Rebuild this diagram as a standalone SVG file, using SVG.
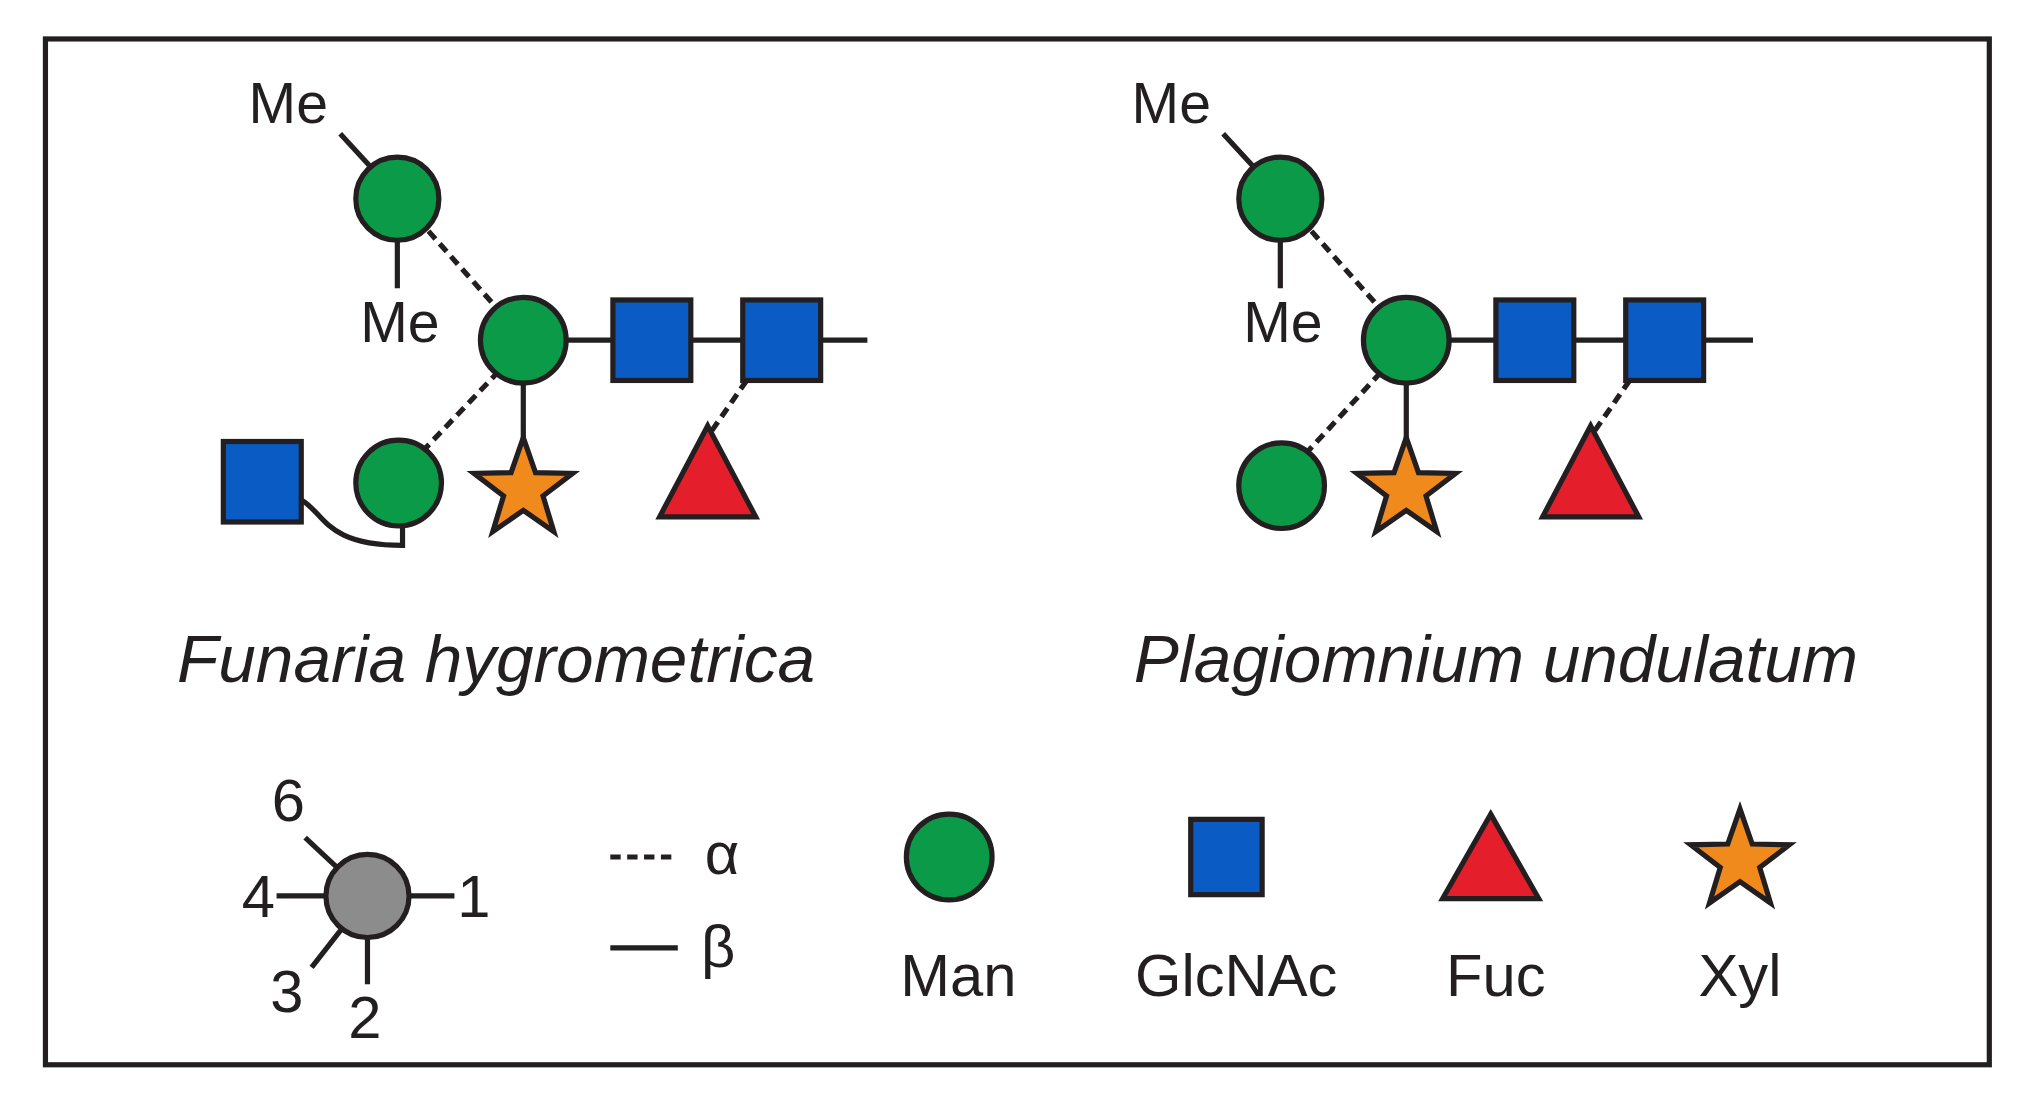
<svg xmlns="http://www.w3.org/2000/svg" width="2036" height="1104" viewBox="0 0 2036 1104">
<defs>
<style>
.man{fill:#0b9a48;stroke:#231f20;stroke-width:4}
.gn{fill:#0a5cc4;stroke:#231f20;stroke-width:4}
.fuc{fill:#e41e2b;stroke:#231f20;stroke-width:4;stroke-linejoin:miter}
.xyl{fill:#f08a1d;stroke:#231f20;stroke-width:4}
.b{stroke:#231f20;stroke-width:4;fill:none}
.a{stroke:#231f20;stroke-width:4;fill:none;stroke-dasharray:8 5}
text{font-family:"Liberation Sans",Arial,sans-serif;fill:#231f20}
.lab{font-size:44px;text-anchor:middle}
.sp{font-size:52px;font-style:italic;text-anchor:middle}
.leg{font-size:46px;text-anchor:middle}
</style>
<polygon id="star" points="0,-40 9.4,-13 38,-12.4 15.2,5 23.5,32.4 0,16 -23.5,32.4 -15.2,5 -38,-12.4 -9.4,-13"/>
</defs>
<rect width="2036" height="1104" fill="#fff"/>
<g transform="scale(1.2985)">
<rect x="35" y="30" width="1497" height="790" fill="none" stroke="#231f20" stroke-width="4"/>
<g id="connectors">
<line class="b" x1="262" y1="103" x2="285" y2="128"/>
<line class="b" x1="306" y1="185" x2="306" y2="222"/>
<line class="a" x1="330" y1="178" x2="385" y2="240"/>
<line class="a" x1="325" y1="348" x2="385" y2="285"/>
<line class="b" x1="403" y1="262" x2="668" y2="262"/>
<line class="b" x1="403" y1="295" x2="403" y2="345"/>
<line class="a" x1="575" y1="293" x2="548" y2="332"/>
<path class="b" d="M232,385 C250,395 250,420 310,420 L310,404"/>
<line class="b" x1="942" y1="103" x2="965" y2="128"/>
<line class="b" x1="986" y1="185" x2="986" y2="222"/>
<line class="a" x1="1010" y1="178" x2="1065" y2="240"/>
<line class="a" x1="1005" y1="350" x2="1065" y2="285"/>
<line class="b" x1="1083" y1="262" x2="1350" y2="262"/>
<line class="b" x1="1083" y1="295" x2="1083" y2="345"/>
<line class="a" x1="1255" y1="293" x2="1228" y2="332"/>
<line class="b" x1="235" y1="645" x2="283" y2="690"/>
<line class="b" x1="213" y1="690" x2="350" y2="690"/>
<line class="b" x1="240" y1="745" x2="283" y2="690"/>
<line class="b" x1="283" y1="690" x2="283" y2="758"/>
<line class="a" x1="470" y1="660" x2="522" y2="660"/>
<line class="b" x1="470" y1="730" x2="522" y2="730"/>
</g>
<g id="left">
<text class="lab" x="222" y="95">Me</text>
<text class="lab" x="308" y="263">Me</text>
<circle class="man" cx="306" cy="153" r="32"/>
<circle class="man" cx="403" cy="262" r="33"/>
<rect class="gn" x="472" y="231" width="60" height="62"/>
<rect class="gn" x="572" y="231" width="60" height="62"/>
<circle class="man" cx="307" cy="372" r="33"/>
<rect class="gn" x="172" y="340" width="60" height="62"/>
<use href="#star" class="xyl" x="403" y="377"/>
<polygon class="fuc" points="545,328 582,398 508,398"/>
<text class="sp" x="382" y="525">Funaria hygrometrica</text>
</g>
<g id="right">
<text class="lab" x="902" y="95">Me</text>
<text class="lab" x="988" y="263">Me</text>
<circle class="man" cx="986" cy="153" r="32"/>
<circle class="man" cx="1083" cy="262" r="33"/>
<rect class="gn" x="1152" y="231" width="60" height="62"/>
<rect class="gn" x="1252" y="231" width="60" height="62"/>
<circle class="man" cx="987" cy="374" r="33"/>
<use href="#star" class="xyl" x="1083" y="377"/>
<polygon class="fuc" points="1225,328 1262,398 1188,398"/>
<text class="sp" x="1152" y="525">Plagiomnium undulatum</text>
</g>
<g id="legend">
<circle cx="283" cy="690" r="32" fill="#8c8c8c" stroke="#231f20" stroke-width="4"/>
<text class="leg" x="222" y="632">6</text>
<text class="leg" x="199" y="706">4</text>
<text class="leg" x="365" y="706">1</text>
<text class="leg" x="221" y="779">3</text>
<text class="leg" x="281" y="799">2</text>
<text class="leg" x="556" y="673" font-family="Liberation Serif">α</text>
<text class="leg" x="553" y="745" font-family="Liberation Serif">β</text>
<circle class="man" cx="731" cy="660" r="33"/>
<text class="leg" x="738" y="767">Man</text>
<rect class="gn" x="917" y="631" width="55" height="58"/>
<text class="leg" x="952" y="767">GlcNAc</text>
<polygon class="fuc" points="1148,627 1185,692 1111,692"/>
<text class="leg" x="1152" y="767">Fuc</text>
<use href="#star" class="xyl" x="1340" y="663"/>
<text class="leg" x="1340" y="767">Xyl</text>
</g>
</g>
</svg>
